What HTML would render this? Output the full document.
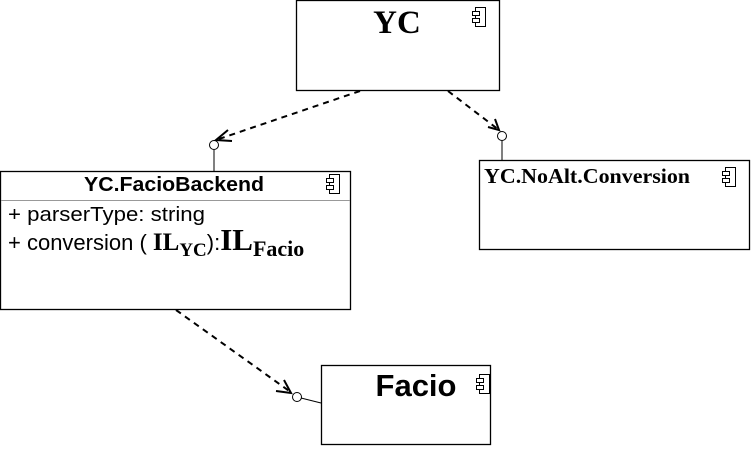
<!DOCTYPE html>
<html><head><style>body{margin:0;background:#fff}</style></head><body>
<svg width="751" height="450" xmlns="http://www.w3.org/2000/svg" font-family="Liberation Sans, sans-serif">
<defs>
<g id="ic"><rect x="3" y="0" width="10" height="19" fill="#fff" stroke="#000" stroke-width="1"/><rect x="0" y="4" width="7" height="4" fill="#fff" stroke="#000"/><rect x="0" y="11" width="7" height="4" fill="#fff" stroke="#000"/></g>
</defs>
<g fill="#fff" stroke="#000" stroke-width="1.3">
<rect x="296.5" y="0.5" width="203" height="90"/>
<rect x="479.5" y="160.5" width="270" height="89"/>
<rect x="0.5" y="171.5" width="350" height="138"/>
<rect x="321.5" y="365.5" width="169" height="79"/>
</g>
<line x1="1" y1="200.5" x2="350" y2="200.5" stroke="#999"/>
<use href="#ic" x="472.5" y="7.5"/>
<use href="#ic" x="722.5" y="167.5"/>
<use href="#ic" x="326.5" y="174.5"/>
<use href="#ic" x="476.5" y="374.5"/>
<g stroke="#000" stroke-width="2" stroke-dasharray="6,5" fill="none">
<line x1="360" y1="91" x2="216" y2="140"/>
<line x1="448" y1="91" x2="499" y2="130"/>
<line x1="176" y1="310" x2="292" y2="393"/>
</g>
<g stroke="#000" stroke-width="2" fill="none">
<polyline points="228,130 216,140 232,141"/>
<polyline points="488,127 499,130 495,119"/>
<polyline points="276,391 291,393 284,380"/>
</g>
<g stroke="#000" stroke-width="1" fill="#fff">
<line x1="214" y1="150" x2="214" y2="171"/>
<circle cx="214" cy="145" r="4.5"/>
<line x1="502" y1="141" x2="502" y2="160"/>
<circle cx="502" cy="136" r="4.5"/>
<line x1="301" y1="398" x2="321" y2="403"/>
<circle cx="297" cy="397" r="4.5"/>
</g>
<text x="397" y="33" text-anchor="middle" font-family="Liberation Serif, serif" font-weight="bold" font-size="33">YC</text>
<text x="484" y="183" font-family="Liberation Serif, serif" font-weight="bold" font-size="21.5" textLength="206" lengthAdjust="spacingAndGlyphs">YC.NoAlt.Conversion</text>
<text x="174" y="191" text-anchor="middle" font-weight="bold" font-size="20" textLength="180" lengthAdjust="spacingAndGlyphs">YC.FacioBackend</text>
<text x="8" y="221" font-size="20" textLength="197" lengthAdjust="spacingAndGlyphs">+ parserType: string</text>
<text x="8" y="250" font-size="22">+ conversion ( <tspan font-family="Liberation Serif, serif" font-weight="bold" font-size="25">IL</tspan><tspan font-family="Liberation Serif, serif" font-weight="bold" font-size="19" dy="6">YC</tspan><tspan dy="-6">):</tspan><tspan font-family="Liberation Serif, serif" font-weight="bold" font-size="31">IL</tspan><tspan font-family="Liberation Serif, serif" font-weight="bold" font-size="22" dy="6">Facio</tspan></text>
<text x="416" y="396" text-anchor="middle" font-weight="bold" font-size="31">Facio</text>
</svg>
</body></html>
